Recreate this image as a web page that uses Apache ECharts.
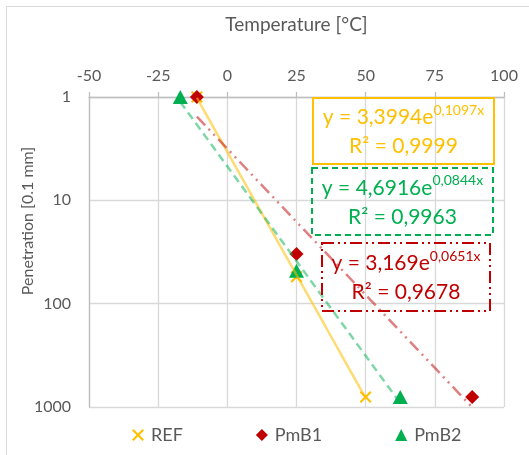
<!DOCTYPE html>
<html>
<head>
<meta charset="utf-8">
<script src="https://cdn.jsdelivr.net/npm/echarts@6/dist/echarts.min.js"></script>
<style>
  html, body { margin: 0; padding: 0; background: #fff; }
  #chart { width: 529px; height: 455px; }
</style>
</head>
<body>
<div id="chart"></div>
<script>
// Penetration vs. temperature for three binders
const seriesNames = ['REF', 'PmB1', 'PmB2'];
const refTemp  = [-11, 25, 50];
const refPen   = [1, 55, 800];
const pmb1Temp = [-11, 25, 88.5];
const pmb1Pen  = [1, 33, 800];
const pmb2Temp = [-17, 25, 62.5];
const pmb2Pen  = [1, 48, 800];

// Exponential trendlines y = a * e^(b * x), same order as seriesNames
const trendA  = [3.3994, 3.169, 4.6916];
const trendB  = [0.1097, 0.0651, 0.0844];
const trendR2 = [0.9999, 0.9678, 0.9963];

const xTickValues = [-50, -25, 0, 25, 50, 75, 100];
const yTickValues = [1, 10, 100, 1000];

const colors = ['#FFC000', '#C00000', '#00B050'];
const trendColors = ['rgba(255,192,0,0.55)', 'rgba(192,0,0,0.5)', 'rgba(0,176,80,0.5)'];
const textGray = '#595959';
const FONT = 'Lato, "Open Sans", sans-serif';

const temps = [refTemp, pmb1Temp, pmb2Temp];
const pens = [refPen, pmb1Pen, pmb2Pen];

function pairs(xs, ys) { return xs.map((x, i) => [x, ys[i]]); }

// trendline samples across each series' temperature range
function trendData(k) {
  const xs = temps[k];
  const lo = Math.min(...xs), hi = Math.max(...xs);
  const out = [];
  const n = 40;
  for (let i = 0; i <= n; i++) {
    const x = lo + (hi - lo) * i / n;
    out.push([x, trendA[k] * Math.exp(trendB[k] * x)]);
  }
  return out;
}

const comma = v => String(v).replace('.', ',');

const crossPath = 'path://M0,1.5L1.5,0L6,4.5L10.5,0L12,1.5L7.5,6L12,10.5L10.5,12L6,7.5L1.5,12L0,10.5L4.5,6Z';
const symbols = [crossPath, 'diamond', 'triangle'];
const symbolSizes = [12, 14, [15, 14]];

const chart = echarts.init(document.getElementById('chart'), null, { renderer: 'canvas' });

// equation boxes
const boxes = [
  { k: 0, x: 313, y: 98,  w: 181, h: 66, dash: null },
  { k: 2, x: 312, y: 168, w: 181, h: 67, dash: [6, 4] },
  { k: 1, x: 322, y: 243, w: 168, h: 68, dash: [12, 4, 2, 4, 2, 4] }
];

const graphics = [
  {
    type: 'rect', silent: true, z: -10,
    shape: { x: 6.5, y: 6.5, width: 560, height: 480 },
    style: { fill: 'none', stroke: '#d9d9d9', lineWidth: 1 }
  },
  {
    type: 'text', silent: true,
    x: 28, y: 221, rotation: Math.PI / 2,
    style: {
      text: 'Penetration [0.1 mm]', fill: textGray, font: '16px ' + FONT,
      align: 'center', verticalAlign: 'middle'
    }
  }
];

boxes.forEach(b => {
  const c = colors[b.k];
  graphics.push({
    type: 'rect', silent: true, z: 100,
    shape: { x: b.x, y: b.y, width: b.w, height: b.h },
    style: { fill: 'none', stroke: c, lineWidth: 2, lineDash: b.dash }
  });
  graphics.push({
    type: 'text', silent: true, z: 101,
    x: b.x + b.w / 2, y: b.y + b.h / 2 + 1,
    style: {
      text: '{m|y = ' + comma(trendA[b.k]) + 'e}{s|' + comma(trendB[b.k]) + 'x}\n{m|R² = ' + comma(trendR2[b.k]) + '}',
      align: 'center', verticalAlign: 'middle',
      rich: {
        m: { fontSize: 21, fontFamily: FONT, fill: c, lineHeight: 29 },
        s: { fontSize: 14, fontFamily: FONT, fill: c, lineHeight: 20, verticalAlign: 'top' }
      }
    }
  });
});

const scatterSeries = seriesNames.map((name, k) => ({
  name: name,
  type: 'scatter',
  data: pairs(temps[k], pens[k]),
  symbol: symbols[k],
  symbolSize: symbolSizes[k],
  itemStyle: { color: colors[k], opacity: 1 },
  z: 3
}));

const trendSeries = seriesNames.map((name, k) => ({
  name: name + ' trend',
  type: 'line',
  data: trendData(k),
  showSymbol: false,
  symbol: 'none',
  silent: true,
  lineStyle: {
    color: trendColors[k],
    width: 2.5,
    type: k === 0 ? 'solid' : (k === 1 ? [12, 5, 2, 5, 2, 5] : [8, 5])
  },
  z: 4
}));

chart.setOption({
  animation: false,
  backgroundColor: '#fff',
  textStyle: { fontFamily: FONT },
  grid: { left: 89, right: 25, top: 97, bottom: 48, outerBoundsMode: 'none', containLabel: false },
  xAxis: {
    type: 'value',
    position: 'top',
    min: xTickValues[0],
    max: xTickValues[xTickValues.length - 1],
    interval: 25,
    name: 'Temperature [°C]',
    nameLocation: 'middle',
    nameGap: 63,
    nameTextStyle: { fontSize: 19, color: textGray, fontFamily: FONT },
    axisLine: { show: true, onZero: false, lineStyle: { color: '#bfbfbf', width: 1.3 } },
    axisTick: { show: true, length: 5, lineStyle: { color: '#bfbfbf', width: 1.3 } },
    axisLabel: { fontSize: 16, color: textGray, margin: 13, fontFamily: FONT, formatter: v => String(v) },
    splitLine: { show: true, lineStyle: { color: '#d9d9d9', width: 1.3 } }
  },
  yAxis: {
    type: 'log',
    logBase: 10,
    min: yTickValues[0],
    max: yTickValues[yTickValues.length - 1],
    inverse: true,
    axisLine: { show: true, onZero: false, lineStyle: { color: '#bfbfbf', width: 1.3 } },
    axisTick: { show: false },
    minorTick: { show: false },
    axisLabel: { fontSize: 16, color: textGray, margin: 18, fontFamily: FONT, formatter: v => String(v) },
    splitLine: { show: true, lineStyle: { color: '#d9d9d9', width: 1.3 } }
  },
  legend: {
    data: [
      { name: 'REF', icon: crossPath },
      { name: 'PmB1' },
      { name: 'PmB2' }
    ],
    left: 127,
    top: 421,
    itemGap: 73,
    itemWidth: 12,
    itemHeight: 12,
    textStyle: { fontSize: 18, color: textGray, fontFamily: FONT, padding: [0, 0, 0, 2] },
    selectedMode: false
  },
  graphic: graphics,
  series: scatterSeries.concat(trendSeries)
});
</script>
</body>
</html>
